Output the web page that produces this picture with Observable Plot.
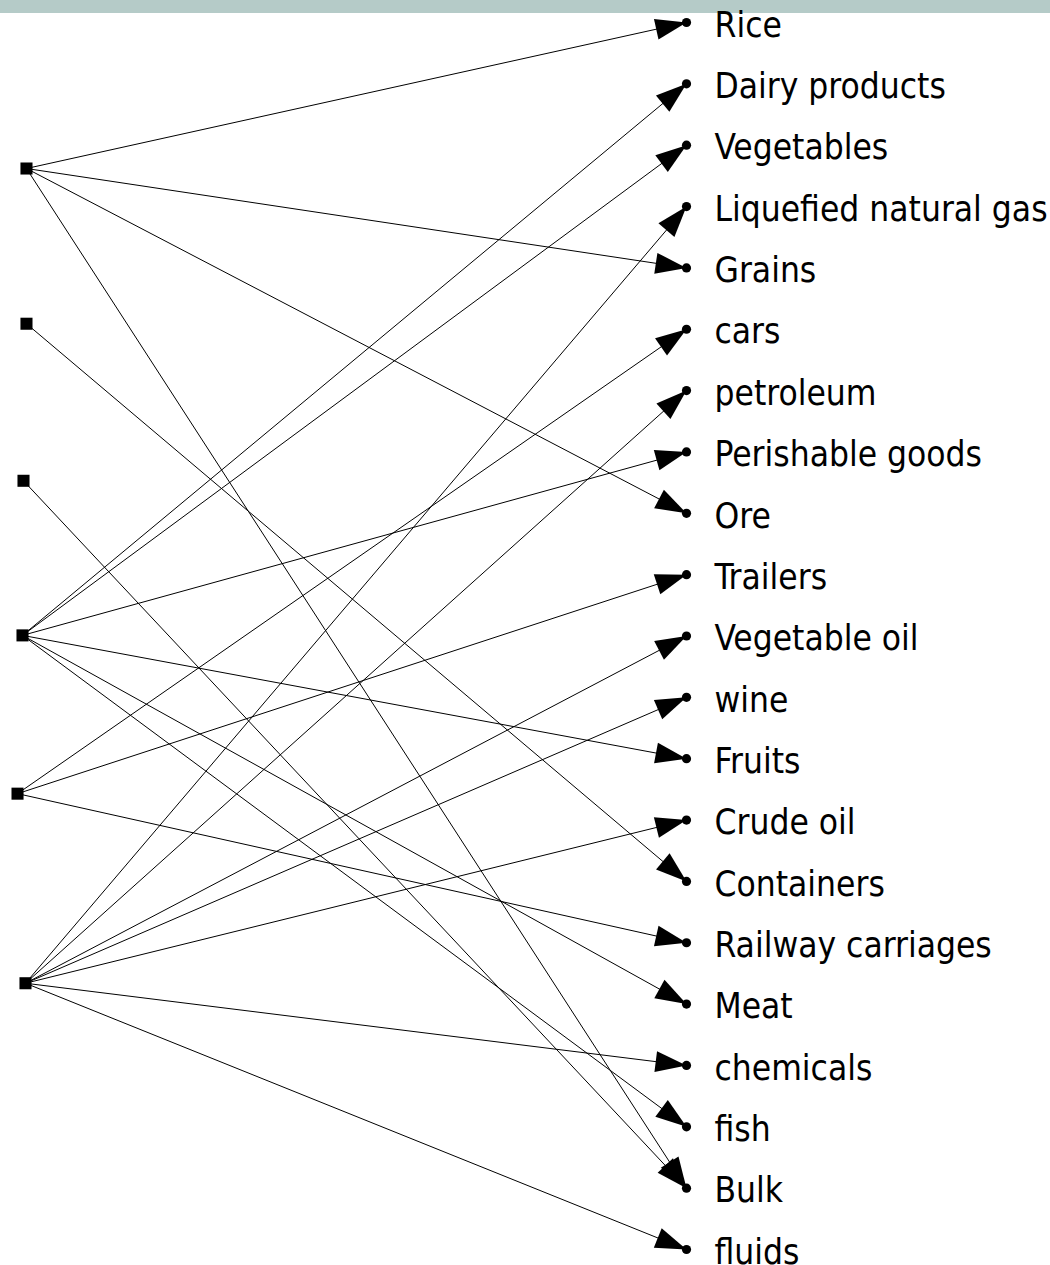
<!DOCTYPE html>
<html>
<head>
<meta charset="utf-8">
<script src="https://cdn.jsdelivr.net/npm/d3@7"></script>
<script src="https://cdn.jsdelivr.net/npm/@observablehq/plot@0.6"></script>
<style>
  html, body { margin: 0; padding: 0; background: #fff; }
  #wrap { position: relative; width: 1050px; height: 1265px; overflow: hidden; background: #fff; }
  #band { position: absolute; left: 0; top: 0; width: 1050px; height: 13px; background: #b5cbc8; z-index: 0; }
  #chart { position: absolute; left: 0; top: 0; z-index: 1; }
  svg { display: block; }
</style>
</head>
<body>
<div id="wrap"><div id="band"></div><div id="chart"></div></div>
<script>
// Right-hand nodes (targets), top to bottom
const targets = ["Rice", "Dairy products", "Vegetables", "Liquefied natural gas", "Grains", "cars",
  "petroleum", "Perishable goods", "Ore", "Trailers", "Vegetable oil", "wine", "Fruits",
  "Crude oil", "Containers", "Railway carriages", "Meat", "chemicals", "fish", "Bulk", "fluids"];
// Left-hand nodes (sources): vertical position in target-row units, small horizontal offset
const sourceRow = [2.38, 4.91, 7.47, 9.99, 12.57, 15.66];
const sourceX = [0.006, 0.006, 0.0015, 0, -0.0075, 0.0045];
// Edges: source index -> target name
const edgeSource = [0, 0, 0, 0, 1, 2, 3, 3, 3, 3, 3, 3, 4, 4, 4, 5, 5, 5, 5, 5, 5, 5];
const edgeTarget = ["Rice", "Grains", "Ore", "Bulk", "Containers", "Bulk",
  "Dairy products", "Vegetables", "Perishable goods", "Fruits", "Meat", "fish",
  "cars", "Trailers", "Railway carriages",
  "Liquefied natural gas", "petroleum", "Vegetable oil", "wine", "Crude oil", "chemicals", "fluids"];

const W = 1050, H = 1265;
const xDomain = [0, 1], xRange = [22, 686];
const yDomain = [0, 20], yRange = [22, 1249];
const xs = d3.scaleLinear(xDomain, xRange);
const ys = d3.scaleLinear(yDomain, yRange);

const sources = sourceRow.map((r, i) => ({x: sourceX[i], y: r}));
const nodes = targets.map((name, i) => ({name, x: 1, y: i}));
const edges = edgeSource.map((s, i) => {
  const t = targets.indexOf(edgeTarget[i]);
  const x1 = sources[s].x, y1 = sources[s].y, x2 = 1, y2 = t;
  const dx = xs(x2) - xs(x1), dy = ys(y2) - ys(y1);
  const angle = Math.atan2(dx, -dy) * 180 / Math.PI;
  return {x1, y1, x2, y2, angle};
});

// filled, elongated arrowhead with its tip at the origin, pointing up
const arrowHead = {
  draw(context) {
    const L = 31, hw = 10.5;
    context.moveTo(0, 0);
    context.lineTo(hw, L);
    context.lineTo(-hw, L);
    context.closePath();
  }
};

const chart = Plot.plot({
  width: W,
  height: H,
  margin: 0,
  x: {domain: xDomain, range: xRange, axis: null},
  y: {domain: yDomain, range: yRange, axis: null},
  marks: [
    Plot.link(edges, {x1: "x1", y1: "y1", x2: "x2", y2: "y2", stroke: "black", strokeWidth: 1}),
    Plot.dot(edges, {x: "x2", y: "y2", rotate: "angle", symbol: arrowHead, fill: "black", stroke: "none", r: 5}),
    Plot.dot(nodes, {x: "x", y: "y", r: 4.6, fill: "black", stroke: "none"}),
    Plot.dot(sources, {x: "x", y: "y", symbol: "square", r: 6.8, fill: "black", stroke: "none"}),
    Plot.text(nodes, {x: "x", y: "y", text: "name", textAnchor: "start", dx: 28, dy: 3, fontSize: 35,
      fill: "black", fontFamily: "Tahoma, 'DejaVu Sans Condensed', 'Liberation Sans', sans-serif"})
  ]
});
chart.style.background = "transparent";
chart.style.overflow = "visible";
document.getElementById("chart").appendChild(chart);
</script>
</body>
</html>
